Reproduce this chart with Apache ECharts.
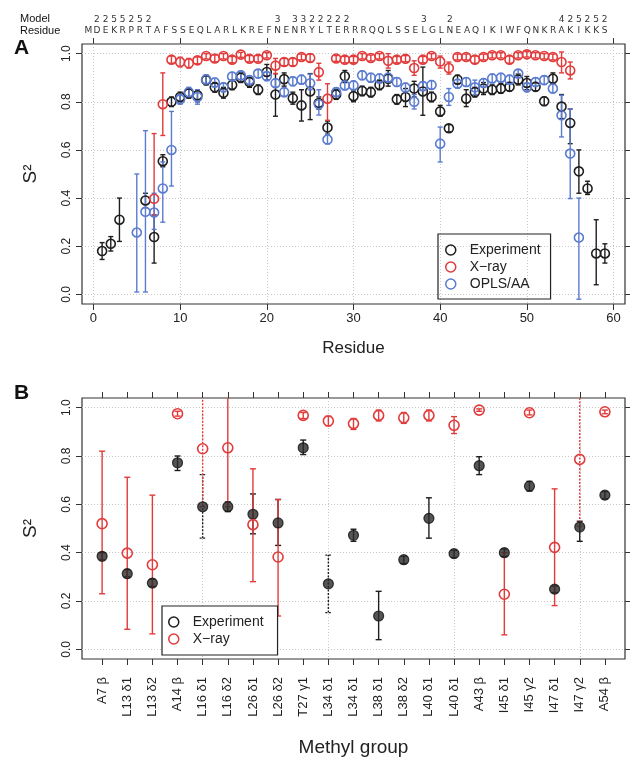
<!DOCTYPE html>
<html><head><meta charset="utf-8">
<script src="https://cdn.jsdelivr.net/npm/echarts@6/dist/echarts.min.js"></script>
<style>html,body{margin:0;padding:0;background:#fff}#c{width:630px;height:761px}</style>
</head><body><div id="c"></div>
<script>
// ---------------- Panel A data ----------------
const residues = [1,2,3,4,5,6,7,8,9,10,11,12,13,14,15,16,17,18,19,20,21,22,23,24,25,26,27,28,29,30,31,32,33,34,35,36,37,38,39,40,41,42,43,44,45,46,47,48,49,50,51,52,53,54,55,56,57,58,59];
const expA = [0.18,0.21,0.31,null,null,0.39,0.238,0.553,0.80,0.82, 0.835,0.827,0.89,0.86,0.837,0.87,0.90,0.882,0.85,0.924, 0.83,0.894,0.815,0.785,0.843,0.795,0.693,0.83,0.906,0.823, 0.845,0.84,0.87,0.896,0.81,0.82,0.855,0.843,0.82,0.76, 0.69,0.892,0.813,0.84,0.855,0.85,0.855,0.862,0.892,0.878, 0.862,0.802,0.896,0.78,0.712,0.511,0.44,0.17,0.17];
const expALo = [0.145,0.18,0.22,null,null,0.36,0.13,0.53,0.78,0.80, 0.815,0.80,0.87,0.84,0.815,0.85,0.88,0.86,0.83,0.89, 0.74,0.865,0.79,0.72,0.726,0.77,0.665,0.81,0.88,0.80, 0.825,0.82,0.85,0.865,0.79,0.78,0.82,0.744,0.80,0.74, 0.675,0.875,0.78,0.82,0.83,0.83,0.835,0.845,0.87,0.85, 0.845,0.785,0.875,0.73,0.626,0.42,0.415,0.04,0.13];
const expAHi = [0.215,0.24,0.40,null,null,0.42,0.33,0.58,0.82,0.84, 0.855,0.85,0.91,0.88,0.86,0.89,0.92,0.90,0.87,0.955, 0.917,0.92,0.84,0.85,0.917,0.82,0.72,0.85,0.93,0.845, 0.865,0.86,0.89,0.93,0.83,0.855,0.885,0.944,0.84,0.785, 0.705,0.91,0.85,0.86,0.88,0.87,0.875,0.88,0.915,0.905, 0.88,0.82,0.92,0.83,0.77,0.60,0.47,0.31,0.21];
const xrayA = [null,null,null,null,null,null,0.397,0.79,0.975,0.965, 0.96,0.972,0.99,0.98,0.99,0.975,0.996,0.979,0.979,0.993, 0.95,0.965,0.965,0.986,0.982,0.923,0.813,0.98,0.975,0.975, 0.99,0.982,0.99,0.97,0.975,0.979,0.94,0.975,0.99,0.967, 0.94,0.986,0.986,0.975,0.986,0.993,0.993,0.975,0.993,0.997, 0.993,0.99,0.986,0.965,0.93,null,null,null,null];
const xrayALo = [null,null,null,null,null,null,0.33,0.66,0.96,0.945, 0.94,0.958,0.978,0.966,0.978,0.962,0.985,0.966,0.966,0.982, 0.917,0.95,0.95,0.974,0.965,0.89,0.723,0.968,0.962,0.962, 0.978,0.97,0.978,0.94,0.962,0.966,0.91,0.962,0.978,0.94, 0.915,0.974,0.974,0.96,0.974,0.982,0.982,0.96,0.982,0.986, 0.982,0.978,0.974,0.92,0.895,null,null,null,null];
const xrayAHi = [null,null,null,null,null,null,0.668,0.92,0.99,0.985, 0.98,0.986,1.0,0.994,1.0,0.988,1.005,0.992,0.992,1.004, 0.98,0.98,0.98,0.998,0.998,0.96,0.875,0.992,0.988,0.988, 1.0,0.994,1.0,1.0,0.988,0.992,0.97,0.988,1.0,0.99, 0.965,0.998,0.998,0.99,0.998,1.004,1.004,0.99,1.004,1.008, 1.004,1.0,0.998,1.007,0.965,null,null,null,null];
const oplsA = [null,null,null,null,0.257,0.343,0.34,0.44,0.60,0.81, 0.84,0.82,0.893,0.88,0.86,0.905,0.91,0.89,0.917,0.906, 0.877,0.84,0.885,0.892,0.877,0.79,0.643,0.84,0.868,0.868, 0.91,0.90,0.897,0.90,0.882,0.859,0.80,0.865,0.87,0.626, 0.82,0.875,0.882,0.86,0.878,0.897,0.90,0.892,0.917,0.86, 0.882,0.89,0.855,0.744,0.585,0.236,null,null,null];
const oplsALo = [null,null,null,null,0.01,0.01,0.27,0.30,0.45,0.79, 0.82,0.79,0.875,0.862,0.842,0.888,0.892,0.872,0.9,0.888, 0.86,0.822,0.867,0.874,0.85,0.745,0.625,0.822,0.85,0.85, 0.892,0.882,0.879,0.882,0.864,0.841,0.77,0.847,0.852,0.55, 0.785,0.857,0.864,0.83,0.86,0.879,0.882,0.874,0.9,0.842, 0.864,0.872,0.837,0.654,0.398,-0.02,null,null,null];
const oplsAHi = [null,null,null,null,0.50,0.68,0.42,0.55,0.76,0.83, 0.86,0.85,0.911,0.898,0.878,0.922,0.928,0.908,0.934,0.924, 0.895,0.858,0.903,0.91,0.915,0.85,0.665,0.858,0.886,0.886, 0.928,0.918,0.915,0.918,0.9,0.877,0.83,0.883,0.888,0.695, 0.855,0.893,0.9,0.89,0.896,0.915,0.918,0.91,0.934,0.878, 0.9,0.908,0.873,0.827,0.77,0.40,null,null,null];
const residueTicks = [0,10,20,30,40,50,60];
const s2Ticks = [0,0.2,0.4,0.6,0.8,1.0];
// sequence (residue letters, starting at residue 0) and model counts
const seqLetters = ['M','D','E','K','R','P','R','T','A','F','S','S','E','Q','L','A','R','L','K','R','E','F','N','E','N','R','Y','L','T','E','R','R','R','Q','Q','L','S','S','E','L','G','L','N','E','A','Q','I','K','I','W','F','Q','N','K','R','A','K','I','K','K','S'];
const modelNums = ['','2','2','5','5','2','5','2','','', '','','','','','','','','','', '','','3','','3','3','2','2','2','2', '2','','','','','','','','','3', '','','2','','','','','','','', '','','','','','4','2','5','2','5','2'];

// ---------------- Panel B data ----------------
const methylPos = [1,2,3,4,5,6,7,8,9,10,11,12,13,14,15,16,17,18,19,20,21];
const methylLabels = ['A7 β','L13 δ1','L13 δ2','A14 β','L16 δ1','L16 δ2','L26 δ1','L26 δ2','T27 γ1','L34 δ1','L34 δ1','L38 δ1','L38 δ2','L40 δ1','L40 δ1','A43 β','I45 δ1','I45 γ2','I47 δ1','I47 γ2','A54 β'];
const expB   = [0.385,0.313,0.274,0.772,0.59,0.59,0.559,0.523,0.834,0.271,0.472,0.138,0.371,0.542,0.396,0.76,0.40,0.675,0.249,0.506,0.638];
const expBLo = [0.37,0.30,0.26,0.74,0.46,0.57,0.478,0.43,0.806,0.152,0.447,0.04,0.355,0.46,0.38,0.723,0.385,0.655,0.235,0.447,0.623];
const expBHi = [0.40,0.33,0.29,0.80,0.723,0.61,0.643,0.62,0.866,0.39,0.497,0.24,0.385,0.627,0.41,0.797,0.415,0.695,0.262,0.53,0.653];
const xrayB   = [0.52,0.398,0.35,0.975,0.83,0.834,0.516,0.382,0.968,0.945,0.934,0.968,0.958,0.968,0.927,0.99,0.228,0.979,0.422,0.786,0.983];
const xrayBLo = [0.23,0.083,0.064,0.965,0.59,0.59,0.28,0.138,0.955,0.925,0.91,0.945,0.935,0.945,0.893,0.985,0.06,0.97,0.181,0.51,0.975];
const xrayBHi = [0.82,0.712,0.638,0.985,1.2,1.2,0.747,0.62,0.98,0.965,0.955,0.99,0.98,0.99,0.963,0.995,0.40,0.99,0.664,1.2,0.99];
const methylGridTicks = [5,10,15,20];
// error bars drawn dotted (style only)
const expBDotted = [5,10];
const xrayBDotted = [5,20];

// ---------------- Styles ----------------
const FONT = 'Liberation Sans';
const BLACK = '#1e1e1e', RED = '#e23b3b', BLUE = '#5a7bd0', GRIDC = '#c8c8c8', AX = '#333';

function pts(xs, ys) { const o = []; xs.forEach((x, i) => { if (ys[i] != null) o.push([x, ys[i]]); }); return o; }
function errs(xs, lo, hi) { const o = []; xs.forEach((x, i) => { if (lo[i] != null) o.push([x, lo[i], hi[i]]); }); return o; }

function errSeries(xi, yi, data, color, dotted, capW, clip) {
  return {
    type: 'custom', xAxisIndex: xi, yAxisIndex: yi, clip: !!clip, silent: true, z: 2,
    data: data, encode: { x: 0, y: [1, 2] },
    renderItem: function (params, api) {
      const x = api.value(0), lo = api.value(1), hi = api.value(2);
      const a = api.coord([x, lo]), b = api.coord([x, hi]);
      const d = dotted && dotted.indexOf(x) >= 0;
      const st = { stroke: color, lineWidth: 1.4, lineDash: d ? [2, 1.5] : 'solid', fill: null };
      return { type: 'group', children: [
        { type: 'line', shape: { x1: a[0], y1: a[1], x2: b[0], y2: b[1] }, style: st },
        { type: 'line', shape: { x1: a[0] - capW, y1: a[1], x2: a[0] + capW, y2: a[1] }, style: st },
        { type: 'line', shape: { x1: b[0] - capW, y1: b[1], x2: b[0] + capW, y2: b[1] }, style: st }
      ] };
    }
  };
}
function openPts(name, xi, yi, data, color, size) {
  return { type: 'scatter', name: name, xAxisIndex: xi, yAxisIndex: yi, data: data, symbol: 'circle', symbolSize: size, z: 3,
    itemStyle: { color: 'rgba(255,255,255,0)', borderColor: color, borderWidth: 1.6, opacity: 1 } };
}
function valueAxis(gi, pos, min, max, ticks, showLabel, extra) {
  return Object.assign({
    type: 'value', gridIndex: gi, position: pos, min: min, max: max,
    axisLine: { show: false, onZero: false },
    axisTick: { show: true, inside: false, length: 6, lineStyle: { color: AX, width: 1 }, customValues: ticks },
    axisLabel: { show: showLabel, customValues: ticks, color: '#222', fontFamily: FONT, fontSize: 13 },
    splitLine: { show: false }
  }, extra || {});
}
const dotted = { show: true, lineStyle: { color: GRIDC, type: [1, 2], width: 1 } };
const yLab = { show: true, customValues: s2Ticks, rotate: 90, margin: 9, color: '#222', fontFamily: FONT, fontSize: 12, formatter: v => v.toFixed(1) };

const option = {
  animation: false,
  backgroundColor: '#fff',
  grid: [
    { left: 82, top: 44, width: 543, height: 260, show: true, borderColor: AX, borderWidth: 1.2, backgroundColor: 'transparent' },
    { left: 82, top: 398, width: 543, height: 261, show: true, borderColor: AX, borderWidth: 1.2, backgroundColor: 'transparent' },
    { left: 84, top: 37, width: 525, height: 2, show: false }
  ],
  xAxis: [
    valueAxis(0, 'bottom', -1.32, 61.32, residueTicks, true, {
      splitLine: dotted, name: 'Residue', nameLocation: 'middle', nameGap: 36,
      nameTextStyle: { fontFamily: FONT, fontSize: 17, color: '#222' } }),
    valueAxis(0, 'top', -1.32, 61.32, residueTicks, false),
    valueAxis(1, 'bottom', 0.2, 21.8, methylPos, true, {
      axisLabel: { show: true, customValues: methylPos, rotate: 90, margin: 18, color: '#222', fontFamily: FONT, fontSize: 13,
        formatter: v => methylLabels[Math.round(v) - 1] },
      name: 'Methyl group', nameLocation: 'middle', nameGap: 79,
      nameTextStyle: { fontFamily: FONT, fontSize: 19, color: '#222' } }),
    valueAxis(1, 'top', 0.2, 21.8, methylPos, false),
    { type: 'value', gridIndex: 1, position: 'bottom', min: 0.2, max: 21.8,
      axisLine: { show: false, onZero: false }, axisLabel: { show: false },
      axisTick: { show: false, customValues: methylGridTicks }, splitLine: dotted },
    { type: 'category', gridIndex: 2, position: 'top', data: seqLetters,
      axisLine: { show: false }, axisTick: { show: false },
      axisLabel: { interval: 0, margin: 2, color: '#333', fontFamily: 'DejaVu Sans', fontSize: 9 } },
    { type: 'category', gridIndex: 2, position: 'top', offset: 11, data: modelNums,
      axisLine: { show: false }, axisTick: { show: false },
      axisLabel: { interval: 0, margin: 2, color: '#333', fontFamily: 'DejaVu Sans', fontSize: 9 } }
  ],
  yAxis: [
    valueAxis(0, 'left', -0.04, 1.04, s2Ticks, true, {
      axisLabel: yLab, splitLine: dotted, name: 'S²', nameLocation: 'middle', nameRotate: 90, nameGap: 42,
      nameTextStyle: { fontFamily: FONT, fontSize: 19, color: '#222' } }),
    valueAxis(0, 'right', -0.04, 1.04, s2Ticks, false),
    valueAxis(1, 'left', -0.04, 1.04, s2Ticks, true, {
      axisLabel: yLab, splitLine: dotted, name: 'S²', nameLocation: 'middle', nameRotate: 90, nameGap: 42,
      nameTextStyle: { fontFamily: FONT, fontSize: 19, color: '#222' } }),
    valueAxis(1, 'right', -0.04, 1.04, s2Ticks, false),
    { type: 'value', gridIndex: 2, show: false }
  ],
  legend: [
    { left: 438, top: 234, orient: 'vertical', selectedMode: false, borderColor: '#222', borderWidth: 1.2,
      padding: [8, 10, 7, 7], itemGap: 1, itemWidth: 10, itemHeight: 10,
      textStyle: { fontFamily: FONT, fontSize: 14, color: '#222', lineHeight: 16, padding: [0, 0, 0, 9] },
      data: [
        { name: 'Experiment', icon: 'circle', itemStyle: { color: 'rgba(0,0,0,0)', borderColor: BLACK, borderWidth: 1.5 } },
        { name: 'X−ray', icon: 'circle', itemStyle: { color: 'rgba(0,0,0,0)', borderColor: RED, borderWidth: 1.5 } },
        { name: 'OPLS/AA', icon: 'circle', itemStyle: { color: 'rgba(0,0,0,0)', borderColor: BLUE, borderWidth: 1.5 } }
      ] },
    { left: 162, top: 606, orient: 'vertical', selectedMode: false, borderColor: '#222', borderWidth: 1.2,
      padding: [8, 14, 8, 6], itemGap: 1, itemWidth: 10, itemHeight: 10, backgroundColor: '#fff',
      textStyle: { fontFamily: FONT, fontSize: 14, color: '#222', lineHeight: 16, padding: [0, 0, 0, 9] },
      data: [
        { name: 'Experiment', icon: 'circle', itemStyle: { color: 'rgba(0,0,0,0)', borderColor: BLACK, borderWidth: 1.5 } },
        { name: 'X−ray', icon: 'circle', itemStyle: { color: 'rgba(0,0,0,0)', borderColor: RED, borderWidth: 1.5 } }
      ] }
  ],
  graphic: [
    { type: 'text', left: 14, top: 38, style: { text: 'A', font: 'bold 21px "Liberation Sans"', fill: '#111' } },
    { type: 'text', left: 14, top: 383, style: { text: 'B', font: 'bold 21px "Liberation Sans"', fill: '#111' } },
    { type: 'text', left: 20, top: 13, style: { text: 'Model', font: '11px "Liberation Sans"', fill: '#111' } },
    { type: 'text', left: 20, top: 25, style: { text: 'Residue', font: '11px "Liberation Sans"', fill: '#111' } }
  ],
  series: [
    errSeries(0, 0, errs(residues, expALo, expAHi), BLACK, null, 2.5),
    openPts('Experiment', 0, 0, pts(residues, expA), BLACK, 9),
    errSeries(0, 0, errs(residues, xrayALo, xrayAHi), RED, null, 2.5),
    openPts('X−ray', 0, 0, pts(residues, xrayA), RED, 9),
    errSeries(0, 0, errs(residues, oplsALo, oplsAHi), BLUE, null, 2.5),
    openPts('OPLS/AA', 0, 0, pts(residues, oplsA), BLUE, 9),
    errSeries(2, 2, errs(methylPos, expBLo, expBHi), BLACK, expBDotted, 3, true),
    { type: 'scatter', name: 'Experiment', xAxisIndex: 2, yAxisIndex: 2, data: pts(methylPos, expB), symbol: 'circle', symbolSize: 10, z: 3,
      itemStyle: { color: '#2a2a2a', borderColor: '#111', borderWidth: 1.2 } },
    errSeries(2, 2, errs(methylPos, xrayBLo, xrayBHi), RED, xrayBDotted, 3, true),
    openPts('X−ray', 2, 2, pts(methylPos, xrayB), RED, 10)
  ]
};
const chart = echarts.init(document.getElementById('c'));
chart.setOption(option);
</script></body></html>
